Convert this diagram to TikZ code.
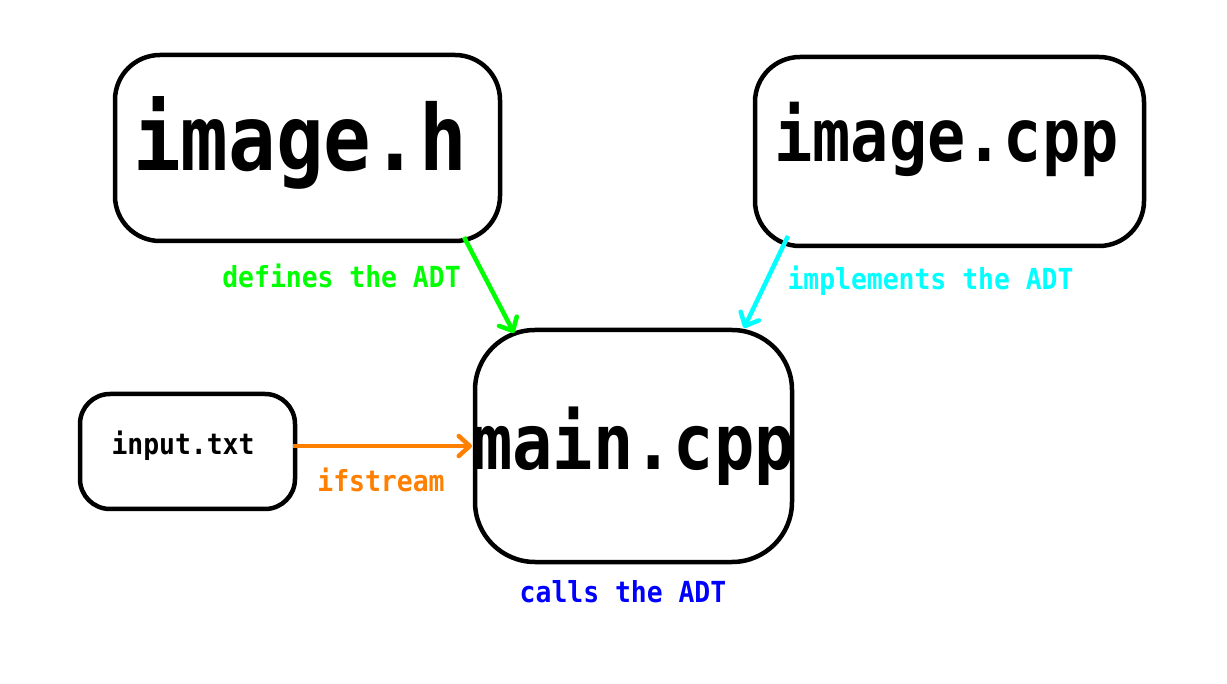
\documentclass[tikz,border=0pt]{standalone}
\usepackage{fontspec}
\usetikzlibrary{arrows.meta,calc}
\newfontfamily\cmono[FakeStretch=0.87]{DejaVu Sans Mono}
\newfontfamily\smono[FakeStretch=0.91]{DejaVu Sans Mono}
\definecolor{cgreen}{RGB}{0,255,0}
\definecolor{ccyan}{RGB}{0,255,255}
\definecolor{corange}{RGB}{255,128,0}
\definecolor{cblue}{RGB}{0,0,255}
\begin{document}
\begin{tikzpicture}[x=1pt,y=-1pt,
  filebox/.style={draw=black,line width=4.5pt,inner sep=0pt,outer sep=0pt},
  txt/.style={anchor=base,inner sep=0pt,font=\cmono\bfseries},
  conn/.style={line width=4.5pt,-{Straight Barb[length=11pt,width=20pt,line cap=round,line join=round]}},
  lbl/.style={txt,font=\smono\bfseries\fontsize{29}{32}\selectfont}]
\useasboundingbox (0,0) rectangle (1227,684);
\node[filebox,rounded corners=45pt,minimum width=385pt,minimum height=186pt] (imgh) at (307.5,148) {};
\node[filebox,rounded corners=45pt,minimum width=389pt,minimum height=189pt] (imgcpp) at (949.5,151.5) {};
\node[filebox,rounded corners=60pt,minimum width=317pt,minimum height=232pt] (main) at (633.5,446) {};
\node[filebox,rounded corners=30pt,minimum width=215pt,minimum height=115pt] (input) at (187.5,451.5) {};
\node[txt,font=\cmono\bfseries\fontsize{91}{100}\selectfont] (timgh) at (300,171) {image.h};
\node[txt,font=\cmono\bfseries\fontsize{73}{80}\selectfont] (timgcpp) at (946.5,162) {image.cpp};
\node[txt,font=\cmono\bfseries\fontsize{77}{85}\selectfont] (tmain) at (633.5,470) {main.cpp};
\node[lbl] (tinput) at (183,455) {input.txt};
\draw[conn,cgreen] ($(imgh.south)+(156.5,-4)$) -- ($(main.north)+(-119.5,3)$);
\draw[conn,ccyan] ($(imgcpp.south)+(-161.5,-10)$) -- ($(main.north)+(110.5,-2)$);
\draw[conn,corange] ($(input.east)+(-2,-5.5)$) -- ($(main.west)+(-3,0)$);
\node[lbl,text=cgreen] (ldef) at (341.5,288) {defines the ADT};
\node[lbl,text=ccyan] (limp) at (930.5,290) {implements the ADT};
\node[lbl,text=corange] (lifs) at (381,492) {ifstream};
\node[lbl,text=cblue] (lcall) at (623,602) {calls the ADT};
\end{tikzpicture}
\end{document}
